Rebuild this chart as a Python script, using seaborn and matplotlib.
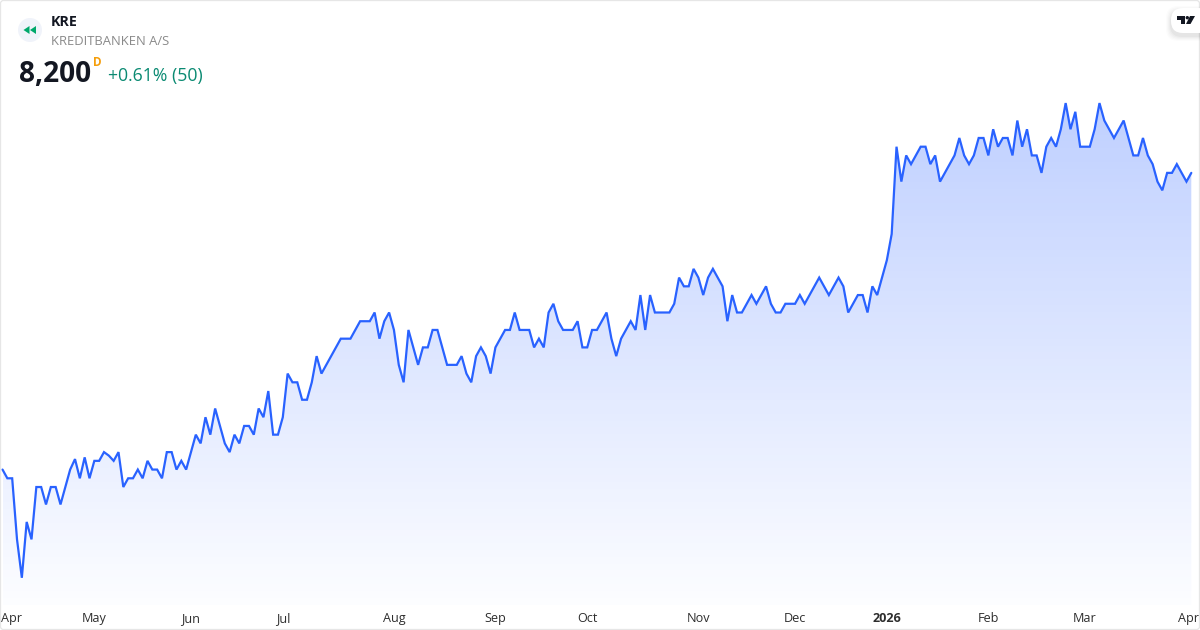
import numpy as np
import pandas as pd
import seaborn as sns
import matplotlib
matplotlib.use("Agg")
import matplotlib.pyplot as plt
from matplotlib.colors import LinearSegmentedColormap
from matplotlib.patches import FancyBboxPatch, Circle, Polygon, PathPatch
from matplotlib.path import Path
from matplotlib.transforms import ScaledTranslation

# ---- data -----
prices = [
 6500,6450,6450,6100,5880,6200,6100,6400,6400,6300,6400,6400,6300,6400,6500,6560,6450,6570,6450,6550,
 6550,6600,6580,6550,6600,6400,6450,6450,6500,6450,6550,6500,6500,6450,6600,6600,6500,6550,6500,6600,
 6700,6650,6800,6700,6850,6750,6650,6600,6700,6650,6750,6750,6700,6850,6800,6950,6700,6700,6800,7050,
 7000,7000,6900,6900,7000,7150,7050,7100,7150,7200,7250,7250,7250,7300,7350,7350,7350,7400,7250,7350,
 7400,7300,7100,7000,7300,7200,7100,7200,7200,7300,7300,7200,7100,7100,7100,7150,7050,7000,7150,7200,
 7150,7050,7200,7250,7300,7300,7400,7300,7300,7300,7200,7250,7200,7400,7450,7350,7300,7300,7300,7350,
 7200,7200,7300,7300,7350,7400,7250,7150,7250,7300,7350,7300,7500,7300,7500,7400,7400,7400,7400,7450,
 7600,7550,7550,7650,7600,7500,7600,7650,7600,7550,7350,7500,7400,7400,7450,7500,7450,7500,7550,7450,
 7400,7400,7450,7450,7450,7500,7450,7500,7550,7600,7550,7500,7550,7600,7550,7400,7450,7500,7500,7400,
 7550,7500,7600,7700,7850,8350,8150,8300,8250,8300,8350,8350,8250,8300,8150,8200,8250,8300,8400,8300,
 8250,8300,8400,8400,8300,8450,8350,8400,8400,8300,8500,8350,8450,8300,8300,8200,8350,8400,8350,8450,
 8600,8450,8550,8350,8350,8350,8450,8600,8500,8450,8400,8450,8500,8400,8300,8300,8400,8300,8250,8150,
 8100,8200,8200,8250,8200,8150,8200,
]
tick_index = [0, 19, 39, 58, 81, 102, 121, 144, 164, 183, 204, 224, 246]
tick_labels = ["Apr", "May", "Jun", "Jul", "Aug", "Sep", "Oct", "Nov", "Dec", "2026", "Feb", "Mar", "Apr"]
ticker = "KRE"
company = "KREDITBANKEN A/S"
last_price = "8,200"
interval = "D"
change = "+0.61% (50)"

W, H = 1200, 630
FONTS = ["Open Sans", "Noto Sans", "DejaVu Sans"]
sns.set_style("white")
plt.rcParams["font.family"] = FONTS

fig = plt.figure(figsize=(W / 100, H / 100), dpi=100, facecolor="white")
ax = fig.add_axes([0, (H - 605) / H, 1, 605 / H])
ax.set_facecolor("white")

YLIM = (5724, 9190.6)
XLIM = (-0.52, 247.8)

df = pd.DataFrame({"session": np.arange(len(prices)), "price": prices})
sns.lineplot(data=df, x="session", y="price", ax=ax, color="#2962FF", linewidth=1.6,
             estimator=None, solid_joinstyle="miter", zorder=3)

# gradient area fill, clipped to the area under the line
x = df["session"].to_numpy(dtype=float)
y = df["price"].to_numpy(dtype=float)
floor = YLIM[0]
verts = [(x[0], floor)] + list(zip(x, y)) + [(x[-1], floor)]
clip = PathPatch(Path(verts, closed=False), transform=ax.transData, facecolor="none", edgecolor="none")
ax.add_patch(clip)
cmap = LinearSegmentedColormap.from_list("area", [(0.1608, 0.3843, 1.0, 0.012), (0.1608, 0.3843, 1.0, 0.30)])
im = ax.imshow(np.linspace(1, 0, 256).reshape(-1, 1), extent=(x[0], x[-1], floor, max(prices)),
               cmap=cmap, vmin=0, vmax=1, aspect="auto", zorder=2, interpolation="bilinear")
im.set_clip_path(clip)
ax.set_xlim(*XLIM)
ax.set_ylim(*YLIM)

# axes furniture
ax.set_xlabel("")
ax.set_ylabel("")
ax.set_yticks([])
ax.set_xticks(tick_index)
ax.set_xticklabels(tick_labels, fontsize=9.1, color="#2E2E2E")
ax.tick_params(axis="x", length=0, pad=5)
labels = ax.get_xticklabels()
labels[0].set_ha("left")
labels[-1].set_ha("right")
labels[0].set_transform(labels[0].get_transform() + ScaledTranslation(-2 / 100, 0, fig.dpi_scale_trans))
labels[-1].set_transform(labels[-1].get_transform() + ScaledTranslation(8 / 100, 0, fig.dpi_scale_trans))
labels[9].set_fontweight("bold")
for s in ax.spines.values():
    s.set_visible(False)

# overlay in pixel coordinates for header and frame
ov = fig.add_axes([0, 0, 1, 1], facecolor="none")
ov.set_xlim(0, W)
ov.set_ylim(H, 0)
ov.axis("off")
ov.add_patch(FancyBboxPatch((0.5, 0.5), W - 1, H - 1, boxstyle="round,pad=0,rounding_size=3",
                            fc="none", ec="#E6E6E6", lw=0.9))
ov.add_patch(Circle((30, 30), 12, fc="#F0F3FA", ec="none"))
ov.add_patch(Polygon([[23.5, 30], [29.5, 26], [29.5, 34]], fc="#00A86B", ec="none"))
ov.add_patch(Polygon([[30, 30], [36, 26], [36, 34]], fc="#00A86B", ec="none"))
ov.text(51, 21.5, ticker, fontsize=10.3, fontweight="bold", color="#131722", va="center", ha="left")
ov.text(51, 41.5, company, fontsize=9.35, color="#8A8A8A", va="center", ha="left")
ov.text(19, 74, last_price, fontsize=20.2, fontweight="bold", color="#131722", va="center", ha="left")
ov.text(93, 62, interval, fontsize=8.5, fontweight="bold", color="#F59E0B", va="center", ha="left")
ov.text(108, 76, change, fontsize=12.7, color="#0A8A72", va="center", ha="left")

# logo pill, top right
for off, alpha in [(5, 0.012), (4, 0.016), (3, 0.02), (2, 0.025), (1, 0.03)]:
    ov.add_patch(FancyBboxPatch((1171 - off, 8 - off + 3), 40 + off * 2, 25 + off * 2,
                                boxstyle="round,pad=0,rounding_size=12", fc="black", ec="none", alpha=alpha))
ov.add_patch(FancyBboxPatch((1171, 8), 40, 25, boxstyle="round,pad=0,rounding_size=12", fc="white", ec="none"))
ov.add_patch(Polygon([[1177, 16], [1185, 16], [1185, 24], [1181, 24], [1181, 19.5], [1177, 19.5]], fc="#131722", ec="none"))
ov.add_patch(Circle((1187.3, 17.7), 1.7, fc="#131722", ec="none"))
ov.add_patch(Polygon([[1190, 16], [1195, 16], [1190.5, 24], [1186, 24]], fc="#131722", ec="none"))

fig.savefig("out.png", dpi=100, facecolor="white")
